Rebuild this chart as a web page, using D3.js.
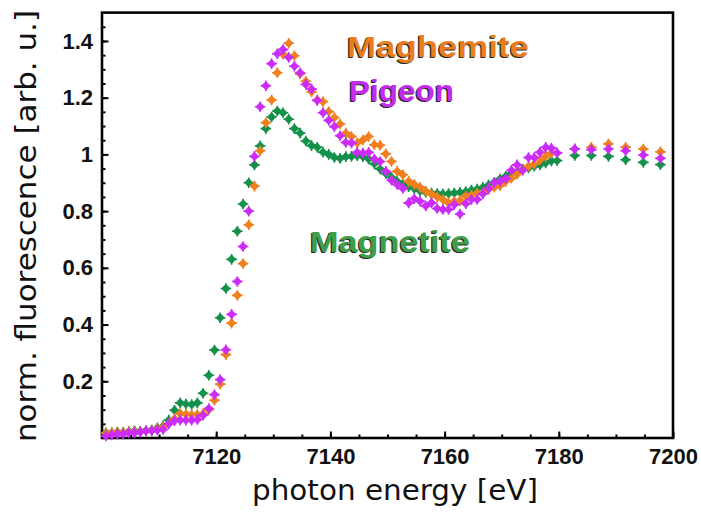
<!DOCTYPE html>
<html>
<head>
<meta charset="utf-8">
<script src="https://cdn.jsdelivr.net/npm/d3@7"></script>
<style>
  body { margin: 0; background: #fff; }
  svg { display: block; }
</style>
</head>
<body>
<svg width="701" height="516"></svg>
<script>
// photon energies [eV] (shared by all three scans)
const energy = [
  7100.7, 7101.7, 7102.7, 7103.7, 7104.7, 7105.7, 7106.7, 7107.7, 7108.7, 7109.7,
  7110.7, 7111.7, 7112.7, 7113.7, 7114.7, 7115.7, 7116.7, 7117.7, 7118.7, 7119.7,
  7120.7, 7121.7, 7122.7, 7123.7, 7124.7, 7125.7, 7126.7, 7127.7, 7128.7, 7129.7,
  7130.7, 7131.7, 7132.7, 7133.7, 7134.7, 7135.7, 7136.7, 7137.7, 7138.7, 7139.7,
  7140.7, 7141.7, 7142.7, 7143.7, 7144.7, 7145.7, 7146.7, 7147.7, 7148.7, 7149.7,
  7150.7, 7151.7, 7152.7, 7153.7, 7154.7, 7155.7, 7156.7, 7157.7, 7158.7, 7159.7,
  7160.7, 7161.7, 7162.7, 7163.7, 7164.7, 7165.7, 7166.7, 7167.7, 7168.7, 7169.7,
  7170.7, 7171.7, 7172.7, 7173.7, 7174.7, 7175.7, 7176.7, 7177.7, 7178.7, 7179.7,
  7182.8, 7185.7, 7188.7, 7191.7, 7194.8, 7197.8];

const magnetite = [
  0.019, 0.019, 0.021, 0.021, 0.023, 0.025, 0.024, 0.026, 0.028, 0.036,
  0.042, 0.063, 0.098, 0.124, 0.120, 0.118, 0.124, 0.158, 0.221, 0.310,
  0.424, 0.527, 0.630, 0.729, 0.825, 0.900, 0.963, 1.030, 1.091, 1.132,
  1.153, 1.147, 1.124, 1.091, 1.075, 1.047, 1.031, 1.025, 1.008, 1.000,
  0.989, 0.986, 0.992, 0.993, 0.995, 0.992, 0.984, 0.967, 0.949, 0.933,
  0.919, 0.905, 0.896, 0.886, 0.879, 0.871, 0.866, 0.864, 0.862, 0.861,
  0.862, 0.864, 0.866, 0.869, 0.874, 0.878, 0.884, 0.892, 0.902, 0.913,
  0.923, 0.934, 0.939, 0.948, 0.952, 0.958, 0.963, 0.970, 0.977, 0.978,
  0.996, 0.996, 0.993, 0.981, 0.972, 0.964];

const maghemite = [
  0.017, 0.018, 0.019, 0.020, 0.021, 0.022, 0.023, 0.025, 0.027, 0.032,
  0.038, 0.050, 0.068, 0.086, 0.084, 0.082, 0.083, 0.085, 0.100, 0.133,
  0.190, 0.294, 0.405, 0.503, 0.615, 0.752, 0.888, 1.013, 1.112, 1.192,
  1.288, 1.353, 1.392, 1.348, 1.284, 1.258, 1.221, 1.192, 1.186, 1.151,
  1.130, 1.107, 1.075, 1.063, 1.040, 1.051, 1.063, 1.034, 1.032, 1.002,
  0.975, 0.940, 0.928, 0.905, 0.894, 0.884, 0.870, 0.860, 0.850, 0.841,
  0.829, 0.835, 0.837, 0.853, 0.856, 0.864, 0.864, 0.876, 0.884, 0.890,
  0.905, 0.916, 0.930, 0.946, 0.958, 0.966, 0.981, 0.993, 1.005, 1.005,
  1.020, 1.025, 1.037, 1.025, 1.019, 1.009];

const pigeon = [
  0.007, 0.011, 0.014, 0.014, 0.018, 0.018, 0.021, 0.025, 0.026, 0.028,
  0.030, 0.050, 0.061, 0.063, 0.063, 0.063, 0.065, 0.080, 0.104, 0.153,
  0.206, 0.311, 0.436, 0.552, 0.675, 0.800, 0.993, 1.168, 1.242, 1.320,
  1.355, 1.370, 1.342, 1.311, 1.288, 1.247, 1.230, 1.190, 1.147, 1.120,
  1.098, 1.066, 1.042, 1.040, 1.007, 1.005, 1.007, 0.984, 0.975, 0.940,
  0.909, 0.894, 0.880, 0.829, 0.844, 0.835, 0.818, 0.829, 0.809, 0.806,
  0.806, 0.823, 0.790, 0.826, 0.841, 0.841, 0.861, 0.880, 0.900, 0.905,
  0.915, 0.944, 0.963, 0.944, 0.989, 0.989, 1.008, 1.025, 1.022, 1.005,
  1.019, 1.017, 1.019, 1.013, 0.998, 0.986];

const xTicks = [7120, 7140, 7160, 7180, 7200];
const yTicks = [0.2, 0.4, 0.6, 0.8, 1.0, 1.2, 1.4];

const series = [
  {name: 'Magnetite', y: magnetite, c: '#13914a', tc: '#3f9f48', lx: 310, ly: 252, tl: 160},
  {name: 'Maghemite', y: maghemite, c: '#f07f1f', tc: '#ea7e1e', lx: 347, ly: 57, tl: 182},
  {name: 'Pigeon', y: pigeon, c: '#cc2cf8', tc: '#c52cee', lx: 349, ly: 101, tl: 105}
];

const L = 102, R = 673, T = 12.6, B = 438;
const x = d3.scaleLinear().domain([7100, 7200]).range([L, R]);
const y = d3.scaleLinear().domain([0, 1.5]).range([B, T]);

const svg = d3.select('svg');
const tickFont = 'Liberation Sans Narrow, Arial Narrow, Liberation Sans, sans-serif';

// minor ticks (inside)
svg.append('g').attr('transform', `translate(0,${B})`)
  .call(d3.axisBottom(x).tickValues(d3.range(7105, 7200, 5)).tickSize(-3.5).tickFormat(''))
  .call(g => g.select('.domain').remove())
  .call(g => g.selectAll('line').attr('stroke-width', 2));
svg.append('g').attr('transform', `translate(${L},0)`)
  .call(d3.axisLeft(y).tickValues(d3.range(0.05, 1.5, 0.05)).tickSize(-3.5).tickFormat(''))
  .call(g => g.select('.domain').remove())
  .call(g => g.selectAll('line').attr('stroke-width', 2));

// major ticks with labels
svg.append('g').attr('transform', `translate(0,${B})`)
  .call(d3.axisBottom(x).tickValues(xTicks).tickSize(-6.5).tickPadding(10).tickFormat(d3.format('d')))
  .call(g => g.select('.domain').remove())
  .call(g => g.selectAll('line').attr('stroke-width', 2))
  .call(g => g.selectAll('text').attr('font-family', tickFont).attr('font-weight', 'bold')
    .attr('font-size', 22).attr('fill', '#111'));
svg.append('g').attr('transform', `translate(${L},0)`)
  .call(d3.axisLeft(y).tickValues(yTicks).tickSize(-6.5).tickPadding(9)
    .tickFormat(d => d === 1 ? '1' : d3.format('.1f')(d)))
  .call(g => g.select('.domain').remove())
  .call(g => g.selectAll('line').attr('stroke-width', 2))
  .call(g => g.selectAll('text').attr('font-family', tickFont).attr('font-weight', 'bold')
    .attr('font-size', 22).attr('fill', '#111'));

// frame
svg.append('rect').attr('x', L).attr('y', T).attr('width', R - L).attr('height', B - T)
  .attr('fill', 'none').attr('stroke', '#000').attr('stroke-width', 2.6);

// markers: filled diamond with small cross
const marker = 'M0,-4.3L4.3,0L0,4.3L-4.3,0Z';
series.forEach(s => {
  const pts = energy.map((e, i) => ({e: e, v: s.y[i]}));
  const g = svg.append('g');
  const m = g.selectAll('g').data(pts).enter().append('g')
    .attr('transform', d => `translate(${x(d.e)},${y(d.v)})`);
  m.append('path').attr('d', marker).attr('fill', s.c)
    .attr('stroke', s.c).attr('stroke-width', 0.8).attr('stroke-linejoin', 'round');
  m.append('path').attr('d', 'M0,-5.3V5.3M-5.3,0H5.3').attr('stroke', s.c).attr('stroke-width', 1.6);
});

// series labels with a dark edge
series.forEach(s => {
  [['#2a2a2a', -1.2, 1.2], [s.tc, 0, 0]].forEach(([col, dx, dy]) => {
    svg.append('text').attr('x', s.lx + dx).attr('y', s.ly + dy)
      .attr('textLength', s.tl).attr('lengthAdjust', 'spacingAndGlyphs')
      .attr('font-family', 'Liberation Sans, Arial, sans-serif').attr('font-weight', 'bold')
      .attr('font-size', 29).attr('fill', col).text(s.name);
  });
});

// axis titles
svg.append('text').attr('x', 395).attr('y', 500).attr('text-anchor', 'middle')
  .attr('textLength', 286).attr('lengthAdjust', 'spacingAndGlyphs')
  .attr('font-family', 'DejaVu Sans, sans-serif').attr('font-size', 28).attr('fill', '#111')
  .text('photon energy [eV]');
svg.append('text').attr('transform', 'translate(36,226) rotate(-90)').attr('text-anchor', 'middle')
  .attr('textLength', 432).attr('lengthAdjust', 'spacingAndGlyphs')
  .attr('font-family', 'DejaVu Sans, sans-serif').attr('font-size', 28).attr('fill', '#111')
  .text('norm. fluorescence [arb. u.]');
</script>
</body>
</html>
